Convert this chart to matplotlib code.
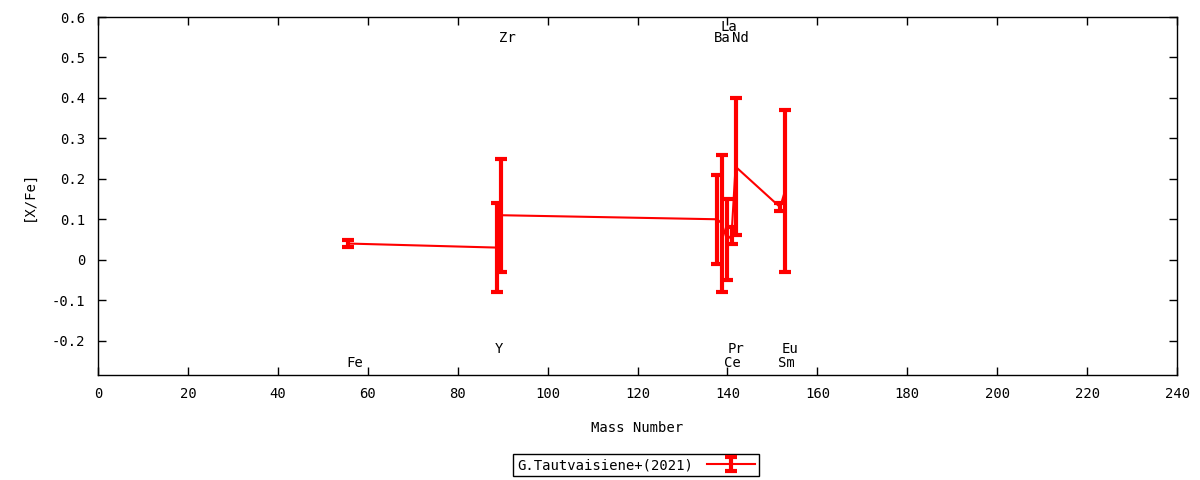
import matplotlib
matplotlib.use("Agg")
import matplotlib.pyplot as plt
from matplotlib.ticker import MultipleLocator, FuncFormatter

plt.rcParams['font.family'] = ['DejaVu Sans Mono']
plt.rcParams['axes.unicode_minus'] = False

# G.Tautvaisiene+(2021) abundances vs mass number
mass = [55.6, 88.7, 89.6, 137.7, 138.7, 139.9, 140.9, 141.8, 151.7, 152.8]
xfe = [0.04, 0.03, 0.11, 0.10, 0.09, 0.05, 0.06, 0.23, 0.13, 0.17]
err = [0.008, 0.11, 0.14, 0.11, 0.17, 0.10, 0.02, 0.17, 0.01, 0.20]

# element labels (x, y)
elements = ['Fe', 'Y', 'Zr', 'Ba', 'La', 'Ce', 'Pr', 'Nd', 'Sm', 'Eu']
label_x = [57, 89.2, 91, 138.8, 140.2, 141, 142, 142.8, 153, 154]
label_y = [-0.255, -0.22, 0.548, 0.548, 0.575, -0.255, -0.22, 0.548, -0.255, -0.22]

fig = plt.figure(figsize=(12, 4.8), dpi=100)
ax = fig.add_axes([0.0817, 0.21875, 0.8992, 0.7458])

ax.errorbar(mass, xfe, yerr=err, color='#ff0000', lw=1.5, elinewidth=3,
            capsize=4, capthick=3, label='G.Tautvaisiene+(2021)')

for name, lx, ly in zip(elements, label_x, label_y):
    ax.text(lx, ly, name, ha='center', va='center', fontsize=10)

ax.set_xlim(0, 240)
ax.set_ylim(-0.285, 0.6)
ax.xaxis.set_major_locator(MultipleLocator(20))
ax.yaxis.set_major_locator(MultipleLocator(0.1))
ax.yaxis.set_major_formatter(FuncFormatter(lambda v, p: '0' if abs(v) < 1e-9 else f'{v:.1f}'))
ax.tick_params(direction='in', length=6, width=1, top=True, right=True,
               labelsize=10, pad=9)
for s in ax.spines.values():
    s.set_linewidth(1)

ax.set_xlabel('Mass Number', fontsize=10, labelpad=14)
ax.set_ylabel('[X/Fe]', fontsize=10, labelpad=12)

leg = fig.legend(loc='center', bbox_to_anchor=(0.53, 0.031), markerfirst=False,
                 fancybox=False, edgecolor='black', fontsize=10,
                 handlelength=3.5, handletextpad=1.0, borderpad=0.3, framealpha=1)
leg.get_frame().set_linewidth(1)

fig.savefig('out.png', dpi=100)
